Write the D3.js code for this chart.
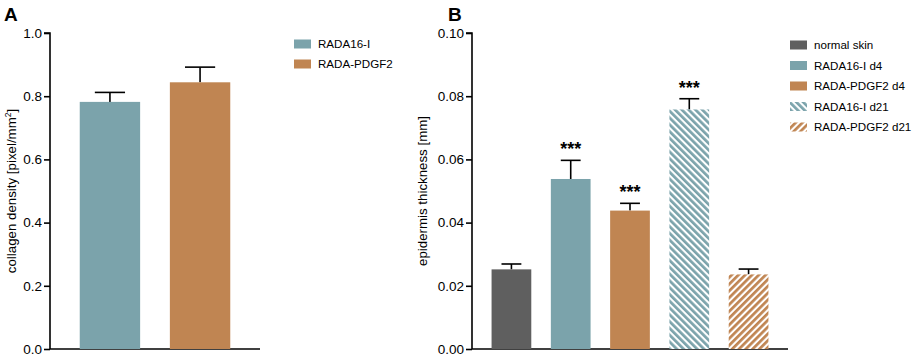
<!DOCTYPE html>
<html>
<head>
<meta charset="utf-8">
<script src="https://cdn.jsdelivr.net/npm/d3@7"></script>
<style>
  body { margin: 0; background: #fff; }
  svg { display: block; font-family: "Liberation Sans", Arial, Helvetica, sans-serif; }
</style>
</head>
<body>
<svg id="chart" width="913" height="357"></svg>
<script>
// panel A data
var catsA = ["RADA16-I", "RADA-PDGF2"];
var meanA = [0.782, 0.844];
var errA = [0.030, 0.048];
var ticksA = [0.0, 0.2, 0.4, 0.6, 0.8, 1.0];

// panel B data
var catsB = ["normal skin", "RADA16-I d4", "RADA-PDGF2 d4", "RADA16-I d21", "RADA-PDGF2 d21"];
var meanB = [0.0252, 0.0538, 0.0438, 0.0758, 0.0236];
var errB = [0.0017, 0.0059, 0.0023, 0.0034, 0.0017];
var starsB = ["", "***", "***", "***", ""];
var ticksB = [0.00, 0.02, 0.04, 0.06, 0.08, 0.10];

var teal = "#7ba3ab", orange = "#c08552", gray = "#5f5f5f";
var fillB = [gray, teal, orange, "url(#hatch-teal)", "url(#hatch-orange)"];
var fillA = [teal, orange];

var svg = d3.select("#chart");
var defs = svg.append("defs");

function hatch(id, color, angle) {
    var p = defs.append("pattern")
        .attr("id", id)
        .attr("patternUnits", "userSpaceOnUse")
        .attr("width", 4.8)
        .attr("height", 4.8)
        .attr("patternTransform", "rotate(" + angle + ")");
    p.append("rect").attr("width", 4.8).attr("height", 4.8).attr("fill", "#fff");
    p.append("rect").attr("width", 2.7).attr("height", 4.8).attr("fill", color);
}
hatch("hatch-teal", teal, -45);
hatch("hatch-orange", orange, 45);

var plotTop = 33, plotBottom = 349;

function panel(opts) {
    var g = svg.append("g");
    var x = d3.scaleBand()
        .domain(opts.cats)
        .range([opts.x0, opts.x1])
        .paddingInner(0.33)
        .paddingOuter(0.33);
    var y = d3.scaleLinear().domain([0, opts.max]).range([plotBottom, plotTop]);

    g.append("g")
        .attr("transform", "translate(" + opts.x0 + ",0)")
        .call(d3.axisLeft(y).tickValues(opts.ticks).tickFormat(d3.format(opts.fmt)).tickSize(6).tickPadding(2))
        .call(function (a) {
            a.select(".domain").attr("stroke-width", 1.6).attr("d", "M-6," + plotTop + "H0V" + plotBottom);
            a.selectAll(".tick line").attr("stroke-width", 1.6);
            a.selectAll(".tick text").attr("font-size", 13.5).attr("fill", "#000")
                .attr("font-family", "Liberation Sans, Arial, sans-serif");
        });

    g.append("line")
        .attr("x1", opts.x0).attr("x2", opts.x1)
        .attr("y1", plotBottom).attr("y2", plotBottom)
        .attr("stroke", "#000").attr("stroke-width", 1.6);

    var bw = x.bandwidth();
    opts.cats.forEach(function (c, i) {
        var cx = x(c) + bw / 2;
        var yt = y(opts.mean[i]), ye = y(opts.mean[i] + opts.err[i]);
        g.append("line")
            .attr("x1", cx).attr("x2", cx).attr("y1", yt).attr("y2", ye)
            .attr("stroke", "#000").attr("stroke-width", 1.6);
        g.append("line")
            .attr("x1", cx - bw / 4).attr("x2", cx + bw / 4).attr("y1", ye).attr("y2", ye)
            .attr("stroke", "#000").attr("stroke-width", 1.6);
        g.append("rect")
            .attr("x", x(c)).attr("y", yt)
            .attr("width", bw).attr("height", plotBottom - yt)
            .attr("fill", opts.fill[i]);
        if (opts.stars && opts.stars[i]) {
            g.append("text")
                .attr("x", cx).attr("y", ye - 5)
                .attr("text-anchor", "middle")
                .attr("font-size", 18).attr("font-weight", "bold")
                .text(opts.stars[i]);
        }
    });

    g.append("text")
        .attr("transform", "translate(" + opts.labelX + "," + ((plotTop + plotBottom) / 2) + ") rotate(-90)")
        .attr("text-anchor", "middle")
        .attr("font-size", 13.3)
        .html(opts.label);

    g.append("text")
        .attr("x", opts.letterX).attr("y", 21)
        .attr("font-size", 19).attr("font-weight", "bold")
        .text(opts.letter);

    var lg = g.append("g");
    opts.cats.forEach(function (c, i) {
        var ly = opts.legY + i * opts.legStep;
        lg.append("rect")
            .attr("x", opts.legX).attr("y", ly - 4.5)
            .attr("width", 17).attr("height", 9)
            .attr("fill", opts.fill[i]);
        lg.append("text")
            .attr("x", opts.legX + 24).attr("y", ly + 4)
            .attr("font-size", 11.6)
            .text(c);
    });
}

panel({
    cats: catsA, mean: meanA, err: errA, ticks: ticksA, fill: fillA,
    x0: 50, x1: 260, max: 1.0, fmt: ".1f",
    label: "collagen density [pixel/mm<tspan baseline-shift='super' font-size='8.5'>2</tspan>]",
    labelX: 16, letter: "A", letterX: 4,
    legX: 294, legY: 44, legStep: 20
});

panel({
    cats: catsB, mean: meanB, err: errB, ticks: ticksB, fill: fillB, stars: starsB,
    x0: 472, x1: 788, max: 0.10, fmt: ".2f",
    label: "epidermis thickness [mm]",
    labelX: 427, letter: "B", letterX: 448,
    legX: 790, legY: 45, legStep: 20.5
});
</script>
</body>
</html>
